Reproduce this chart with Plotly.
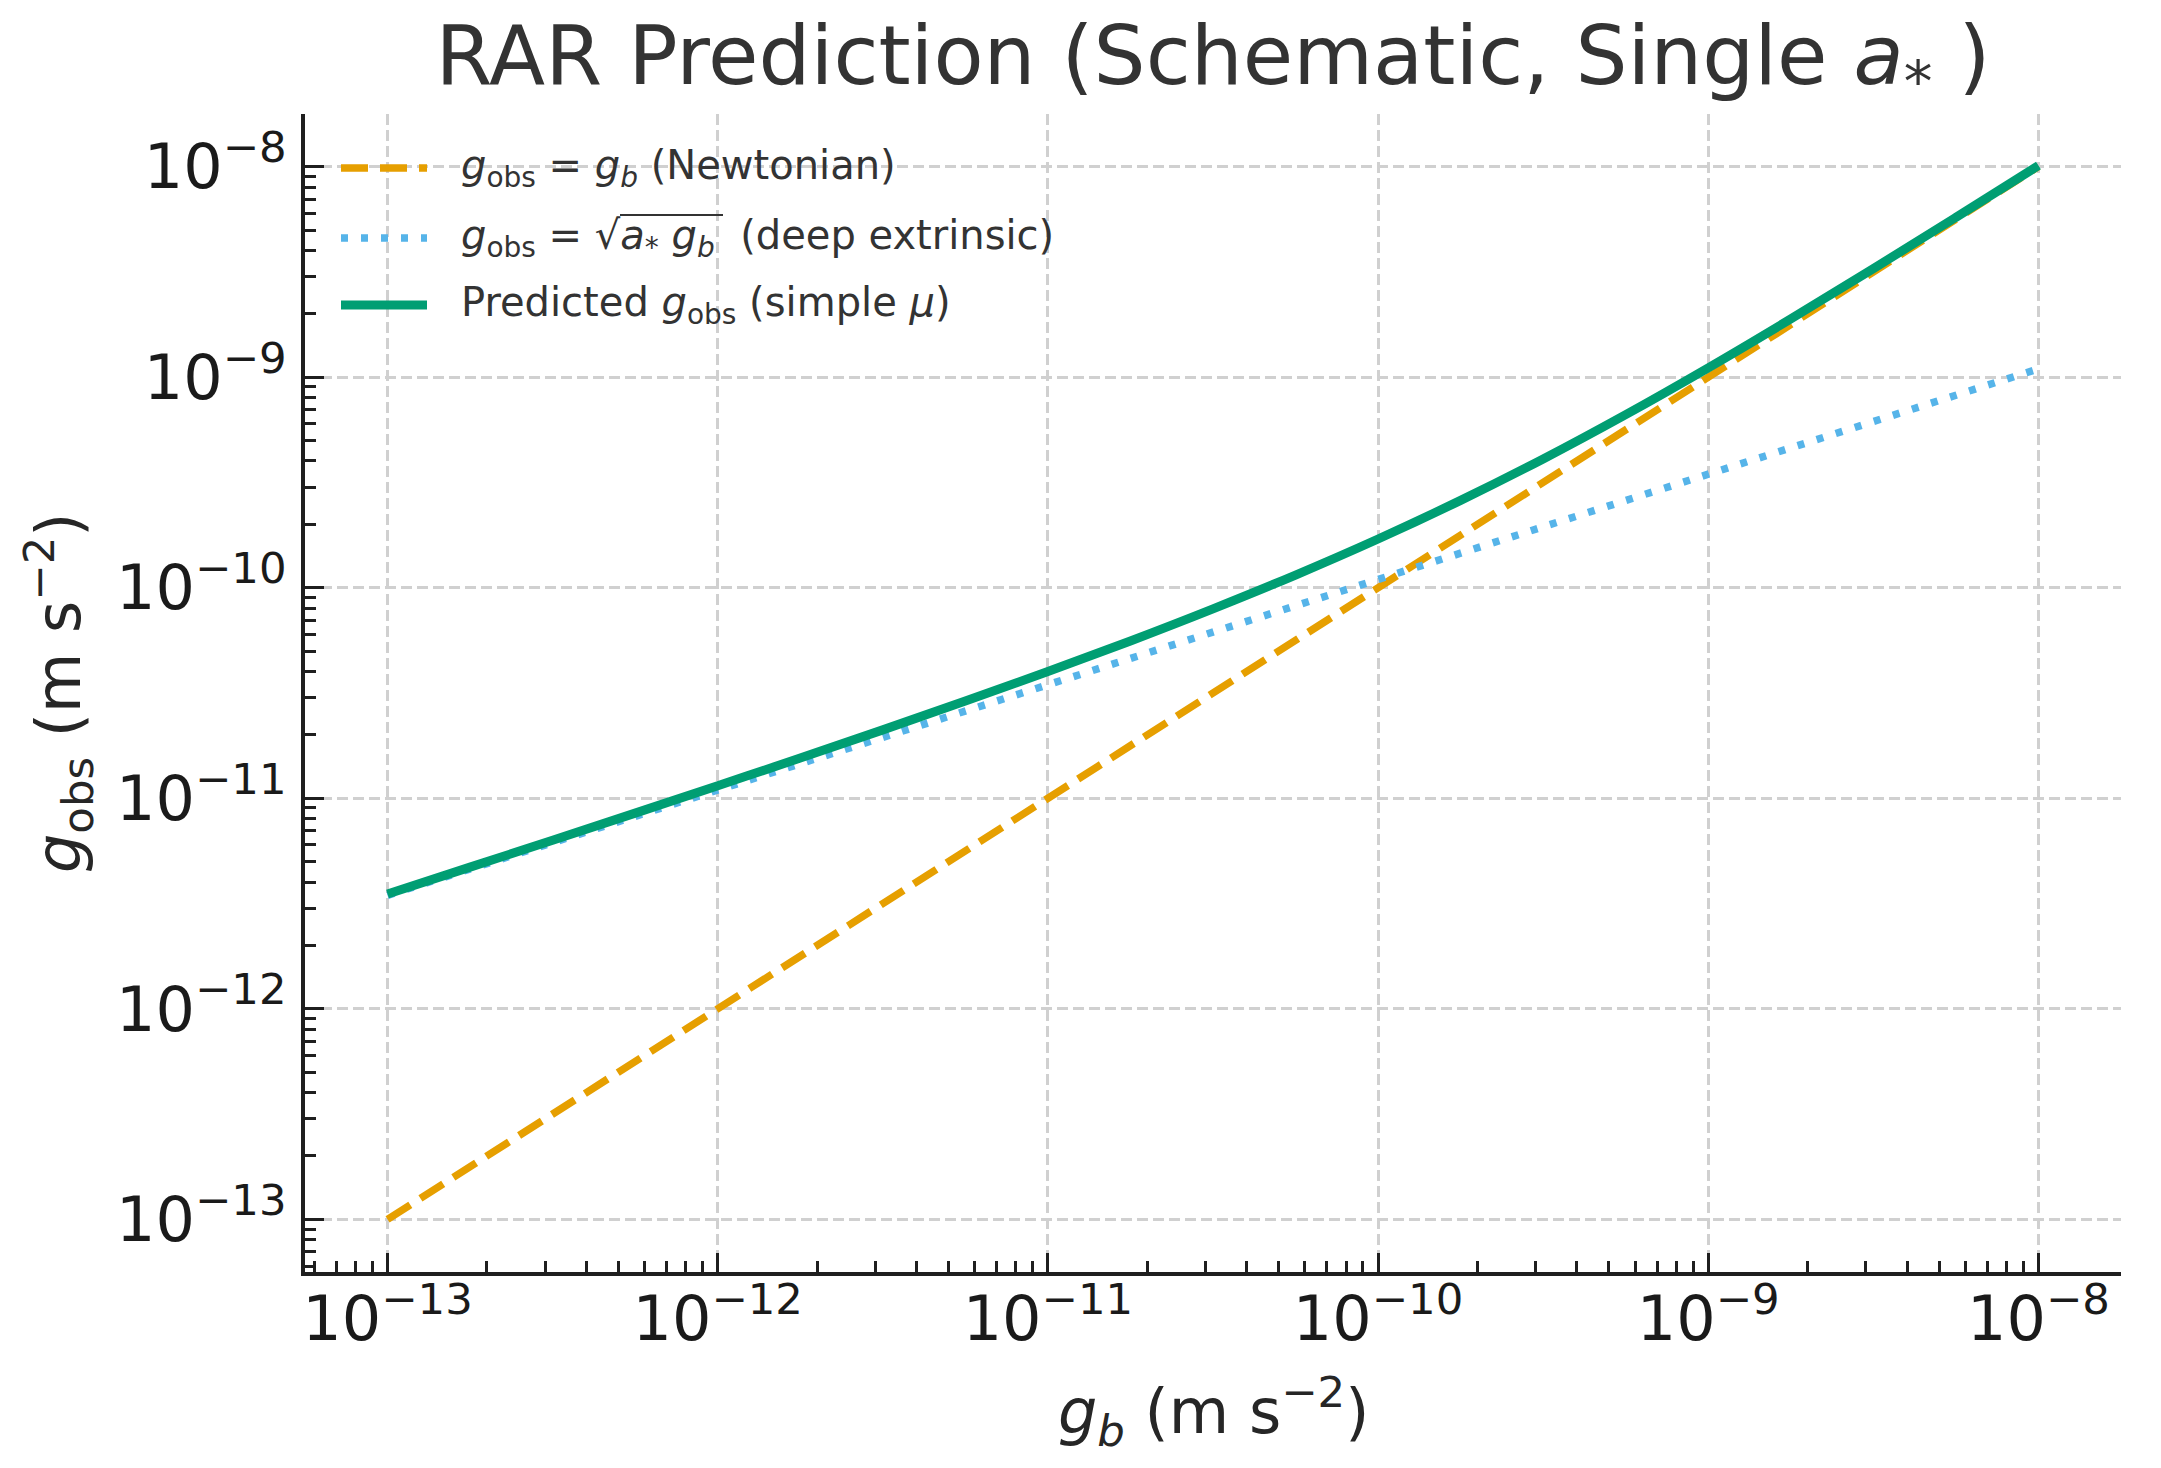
import plotly.graph_objects as go

# ---------------- data ----------------
gb_newton = [1e-13, 1e-12, 1e-11, 1e-10, 1e-9, 1e-8]
gobs_newton = [1e-13, 1e-12, 1e-11, 1e-10, 1e-9, 1e-8]

gb_deep = [1e-13, 1e-12, 1e-11, 1e-10, 1e-9, 1e-8]
gobs_deep = [3.46e-12, 1.095e-11, 3.46e-11, 1.095e-10, 3.46e-10, 1.095e-9]

gb_pred = [1.0e-13, 1.778e-13, 3.162e-13, 5.623e-13,
           1.0e-12, 1.778e-12, 3.162e-12, 5.623e-12,
           1.0e-11, 1.778e-11, 3.162e-11, 5.623e-11,
           1.0e-10, 1.778e-10, 3.162e-10, 5.623e-10,
           1.0e-9, 1.778e-9, 3.162e-9, 5.623e-9, 1.0e-8]
gobs_pred = [3.51e-12, 4.71e-12, 6.32e-12, 8.50e-12,
             1.147e-11, 1.552e-11, 2.113e-11, 2.894e-11,
             4.00e-11, 5.59e-11, 7.94e-11, 1.149e-10,
             1.704e-10, 2.599e-10, 4.090e-10, 6.640e-10,
             1.108e-9, 1.891e-9, 3.278e-9, 5.741e-9, 1.012e-8]

tick_vals = [1e-13, 1e-12, 1e-11, 1e-10, 1e-9, 1e-8]
tick_text = ["10<sup>−13</sup>", "10<sup>−12</sup>", "10<sup>−11</sup>",
             "10<sup>−10</sup>", "10<sup>−9</sup>", "10<sup>−8</sup>"]

legend_labels = [
    "<i>g</i><sub>obs</sub> = <i>g</i><sub><i>b</i></sub> (Newtonian)",
    "<i>g</i><sub>obs</sub> = √<i>a</i><sub>*</sub> <i>g</i><sub><i>b</i></sub>  (deep extrinsic)",
    "Predicted <i>g</i><sub>obs</sub> (simple <i>μ</i>)",
]

# ---------------- styling ----------------
W, H = 2161, 1468
L, R, T, B = 305, 2121, 114, 1272
FONT = "DejaVu Sans"
ORANGE, BLUE, GREEN = "#E69F00", "#56B4E9", "#009E73"
TXT = "#262626"
AX = "#1f1f1f"

def px_x(p):
    return (p - L) / (R - L)

def px_y(p):
    return (B - p) / (B - T)

fig = go.Figure()
fig.add_trace(go.Scatter(x=gb_newton, y=gobs_newton, mode="lines",
                         line=dict(color=ORANGE, width=7.5, dash="27px,12px"),
                         showlegend=False, name="Newtonian"))
fig.add_trace(go.Scatter(x=gb_deep, y=gobs_deep, mode="lines",
                         line=dict(color=BLUE, width=7.5, dash="7px,13px"),
                         showlegend=False, name="deep extrinsic"))
fig.add_trace(go.Scatter(x=gb_pred, y=gobs_pred, mode="lines",
                         line=dict(color=GREEN, width=9, shape="spline", smoothing=1),
                         showlegend=False, name="Predicted"))

axis_common = dict(
    type="log",
    range=[-13.25, -7.75],
    tickmode="array",
    tickvals=tick_vals,
    ticktext=tick_text,
    ticks="inside",
    ticklen=19,
    tickwidth=3.3,
    tickcolor=AX,
    showline=True,
    linecolor=AX,
    linewidth=4,
    mirror=False,
    showgrid=True,
    gridcolor="#d0d0d0",
    gridwidth=3,
    griddash="11px,5px",
    zeroline=False,
    tickfont=dict(family=FONT, size=62, color="#1a1a1a"),
    minor=dict(ticks="inside", ticklen=11, tickwidth=2.7, tickcolor=AX,
               dtick="D1", showgrid=False),
)

fig.update_xaxes(**axis_common, ticklabelstandoff=-10)
fig.update_yaxes(**axis_common, ticklabelstandoff=2)

annotations = []
shapes = []

# axis titles
annotations.append(dict(
    text="<i>g</i><sub><i>b</i></sub> (m s<sup>−2</sup>)",
    x=0.5, xref="paper", y=px_y(1411), yref="paper",
    xanchor="center", yanchor="middle", showarrow=False,
    font=dict(family=FONT, size=62, color=TXT)))
annotations.append(dict(
    text="<i>g</i><sub>obs</sub> (m s<sup>−2</sup>)",
    x=px_x(58), xref="paper", y=0.5, yref="paper",
    xanchor="center", yanchor="middle", showarrow=False, textangle=-90,
    font=dict(family=FONT, size=62, color=TXT)))

# legend (drawn manually to match the sample length)
row_y = [168, 238, 305]
styles = [(ORANGE, 7.5, "27px,12px"), (BLUE, 7.5, "7px,13px"), (GREEN, 9, "solid")]
for yy, (col, w, d), lab in zip(row_y, styles, legend_labels):
    shapes.append(dict(type="line", xref="paper", yref="paper",
                       x0=px_x(341), x1=px_x(427), y0=px_y(yy), y1=px_y(yy),
                       line=dict(color=col, width=w, dash=d)))
    annotations.append(dict(text=lab, x=px_x(459), y=px_y(yy), xref="paper", yref="paper",
                            xanchor="left", yanchor="middle", showarrow=False,
                            font=dict(family=FONT, size=40, color="#333333")))
# radical vinculum over a* g_b
shapes.append(dict(type="line", xref="paper", yref="paper",
                   x0=px_x(620), x1=px_x(723), y0=px_y(215), y1=px_y(215),
                   line=dict(color="#333333", width=2)))

fig.update_layout(
    width=W, height=H,
    margin=dict(l=L, r=W - R, t=T, b=H - B, autoexpand=False),
    paper_bgcolor="white", plot_bgcolor="white",
    font=dict(family=FONT, color=TXT),
    title=dict(text="RAR Prediction (Schematic, Single <i>a</i><sub>*</sub> )",
               x=0.5, xref="paper", xanchor="center",
               y=1 - 55 / H, yref="container", yanchor="middle",
               font=dict(family=FONT, size=82, color="#333333")),
    annotations=annotations,
    shapes=shapes,
)

fig.write_html("out.html", config={"displayModeBar": False},
               post_script="document.body.style.margin='0px';")
